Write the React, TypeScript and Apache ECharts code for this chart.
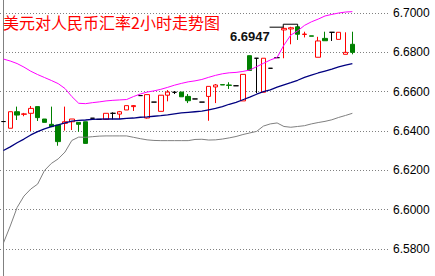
import React, { useEffect, useRef } from "react";
import * as echarts from "echarts";

const titleText = "美元对人民币汇率2小时走势图";
const highLabel = "6.6947";

// 57 time slots on the x axis (52 candles drawn, the rest is empty right margin)
const slots = Array.from({ length: 57 }, (_, i) => `H${i + 1}`);

// [open, close, low, high]
const candles = [
  [6.6448, 6.6448, 6.6448, 6.6448],
  [6.6414, 6.6498, 6.6414, 6.6498],
  [6.6498, 6.6481, 6.6456, 6.6524],
  [6.6485, 6.6487, 6.6475, 6.6492],
  [6.649, 6.6515, 6.64, 6.6527],
  [6.6524, 6.6468, 6.6451, 6.6524],
  [6.6461, 6.6444, 6.6444, 6.6461],
  [6.6434, 6.6422, 6.642, 6.6524],
  [6.643, 6.6346, 6.6325, 6.6432],
  [6.6439, 6.6447, 6.6402, 6.6524],
  [6.6447, 6.6461, 6.6405, 6.6461],
  [6.6444, 6.6434, 6.6396, 6.6444],
  [6.6447, 6.6337, 6.6337, 6.6447],
  [6.6465, 6.6465, 6.6465, 6.6465],
  [6.6459, 6.6459, 6.6459, 6.6459],
  [6.6459, 6.649, 6.6459, 6.649],
  [6.649, 6.649, 6.6459, 6.6495],
  [6.6486, 6.6498, 6.6461, 6.6502],
  [6.6507, 6.6529, 6.6507, 6.6529],
  [6.6524, 6.6529, 6.6502, 6.6532],
  [6.658, 6.658, 6.658, 6.658],
  [6.6466, 6.6585, 6.6463, 6.6585],
  [6.6547, 6.6547, 6.6547, 6.6547],
  [6.65, 6.6582, 6.65, 6.6582],
  [6.6582, 6.6598, 6.6551, 6.6608],
  [6.6597, 6.6597, 6.6588, 6.6603],
  [6.6598, 6.6574, 6.6574, 6.6598],
  [6.6576, 6.6554, 6.6542, 6.6588],
  [6.6563, 6.6563, 6.6563, 6.6563],
  [6.6547, 6.6547, 6.6547, 6.6547],
  [6.6576, 6.6627, 6.6452, 6.6627],
  [6.6624, 6.6634, 6.6542, 6.6639],
  [6.6636, 6.6634, 6.6634, 6.6636],
  [6.6634, 6.6632, 6.6614, 6.6648],
  [6.663, 6.663, 6.663, 6.663],
  [6.6553, 6.6688, 6.6553, 6.6688],
  [6.6783, 6.6708, 6.6708, 6.6783],
  [6.677, 6.677, 6.6593, 6.677],
  [6.6597, 6.677, 6.6597, 6.677],
  [6.6719, 6.6719, 6.6719, 6.6719],
  [6.6773, 6.6773, 6.6773, 6.6773],
  [6.6914, 6.6922, 6.677, 6.693],
  [6.6919, 6.6925, 6.6841, 6.693],
  [6.693, 6.6892, 6.6863, 6.693],
  [6.6891, 6.6893, 6.6876, 6.6905],
  [6.6884, 6.6882, 6.6882, 6.6884],
  [6.6775, 6.6858, 6.6775, 6.6879],
  [6.6871, 6.6859, 6.6859, 6.6905],
  [6.6902, 6.6902, 6.6858, 6.6902],
  [6.6866, 6.6902, 6.6866, 6.6902],
  [6.679, 6.68, 6.679, 6.6902],
  [6.6841, 6.68, 6.679, 6.6905],
];

const upperBand = [
  6.6766, 6.6756, 6.6743, 6.6725, 6.6704, 6.6687, 6.6672, 6.6657, 6.6641, 6.6616,
  6.6575, 6.6541, 6.6539, 6.6544, 6.6548, 6.6553, 6.6556, 6.6558, 6.656, 6.6575,
  6.6588, 6.6598, 6.6604, 6.6612, 6.6622, 6.6633, 6.6642, 6.665, 6.6655, 6.6662,
  6.6673, 6.6683, 6.6691, 6.6696, 6.6698, 6.6703, 6.671, 6.6727, 6.6744, 6.6761,
  6.6774, 6.6837, 6.6888, 6.6909, 6.6937, 6.6955, 6.6969, 6.6985, 6.6993, 6.7,
  6.7005, 6.7007,
];

const middleBand = [
  6.6301, 6.6319, 6.634, 6.6359, 6.638, 6.6397, 6.6411, 6.6422, 6.6431, 6.6441,
  6.645, 6.6454, 6.6456, 6.6459, 6.646, 6.6461, 6.6461, 6.6461, 6.6464, 6.6466,
  6.647, 6.6472, 6.6475, 6.6478, 6.6482, 6.6487, 6.6492, 6.6495, 6.6498, 6.6501,
  6.6508, 6.6515, 6.6524, 6.6536, 6.6546, 6.6559, 6.6572, 6.6587, 6.66, 6.6609,
  6.6623, 6.6635, 6.6646, 6.6658, 6.6673, 6.6684, 6.6695, 6.6705, 6.6715, 6.6726,
  6.6735, 6.6743,
];

const lowerBand = [
  6.583, 6.5917, 6.6011, 6.6069, 6.6105, 6.613, 6.6199, 6.6235, 6.6258, 6.6293,
  6.6352, 6.6369, 6.6368, 6.6371, 6.6374, 6.6375, 6.6375, 6.6375, 6.6375, 6.6368,
  6.6361, 6.6355, 6.6352, 6.6351, 6.6351, 6.6351, 6.6351, 6.6351, 6.6357, 6.6358,
  6.6354, 6.6355, 6.6359, 6.6365, 6.6372, 6.6382, 6.639, 6.6398, 6.6425, 6.6436,
  6.6441, 6.6423, 6.6419, 6.6423, 6.6427, 6.6436, 6.6443, 6.6449, 6.6457, 6.6469,
  6.6479, 6.649,
];

// black high-price marker steps: [slot position, price]
const highMarker = [
  [38.9, 6.6928],
  [40.9, 6.6928],
  [40.9, 6.6943],
  [43, 6.6943],
  [43, 6.693],
];

const yMin = 6.56;
const yMax = 6.72;
const yStep = 0.02;

export default function App() {
  const ref = useRef<HTMLDivElement>(null);

  useEffect(() => {
    if (!ref.current) return;
    const chart = echarts.init(ref.current, null, { renderer: "svg" });
    const bandLine = (name: string, data: number[], color: string, width = 1) => ({
      name,
      type: "line",
      data,
      xAxisIndex: 0,
      yAxisIndex: 0,
      symbol: "none",
      smooth: false,
      lineStyle: { color, width },
      z: 3,
    });
    chart.setOption({
      animation: false,
      backgroundColor: "#ffffff",
      title: {
        text: titleText,
        left: 3,
        top: 14,
        padding: 0,
        textStyle: {
          color: "#ff0000",
          fontSize: 16,
          fontWeight: "normal",
          fontFamily: "Noto Sans CJK SC",
        },
      },
      graphic: [
        {
          type: "text",
          left: 230,
          top: 30,
          style: {
            text: highLabel,
            fill: "#111111",
            fontSize: 13,
            fontWeight: "bold",
            fontFamily: "Liberation Sans, Arial, sans-serif",
          },
          z: 10,
        },
      ],
      grid: {
        left: 0,
        right: 45,
        top: -26.3,
        bottom: -12.3,
        containLabel: false,
        outerBoundsMode: "none",
      },
      xAxis: [
        {
          type: "category",
          data: slots,
          boundaryGap: true,
          show: false,
        },
        {
          type: "value",
          min: -0.5,
          max: 56.5,
          show: false,
        },
      ],
      yAxis: {
        type: "value",
        position: "right",
        min: yMin,
        max: yMax,
        interval: yStep,
        axisLine: { show: true, lineStyle: { color: "#808080", width: 1 } },
        axisTick: { show: false },
        axisLabel: {
          show: true,
          showMinLabel: false,
          showMaxLabel: false,
          margin: 3,
          color: "#000000",
          fontSize: 12,
          fontFamily: "Liberation Sans, Arial, sans-serif",
          padding: [8, 0, 0, 0],
          formatter: (v: number) => v.toFixed(4),
        },
        splitLine: {
          show: true,
          lineStyle: { color: "#808080", width: 1, type: [1, 2] },
        },
      },
      series: [
        {
          type: "candlestick",
          data: candles,
          barWidth: 5,
          itemStyle: {
            color: "#ffffff",
            color0: "#008000",
            borderColor: "#ff0000",
            borderColor0: "#008000",
            borderColorDoji: "#000000",
            borderWidth: 1,
          },
          z: 2,
        },
        bandLine("upper", upperBand, "#ff00ff"),
        bandLine("middle", middleBand, "#000080", 1.3),
        bandLine("lower", lowerBand, "#808080"),
        {
          name: "high",
          type: "line",
          xAxisIndex: 1,
          yAxisIndex: 0,
          data: highMarker,
          symbol: "none",
          lineStyle: { color: "#000000", width: 1 },
          z: 4,
        },
      ],
    });
    return () => chart.dispose();
  }, []);

  return (
    <div
      ref={ref}
      style={{ position: "fixed", left: 0, top: 0, width: 435, height: 276 }}
    />
  );
}
